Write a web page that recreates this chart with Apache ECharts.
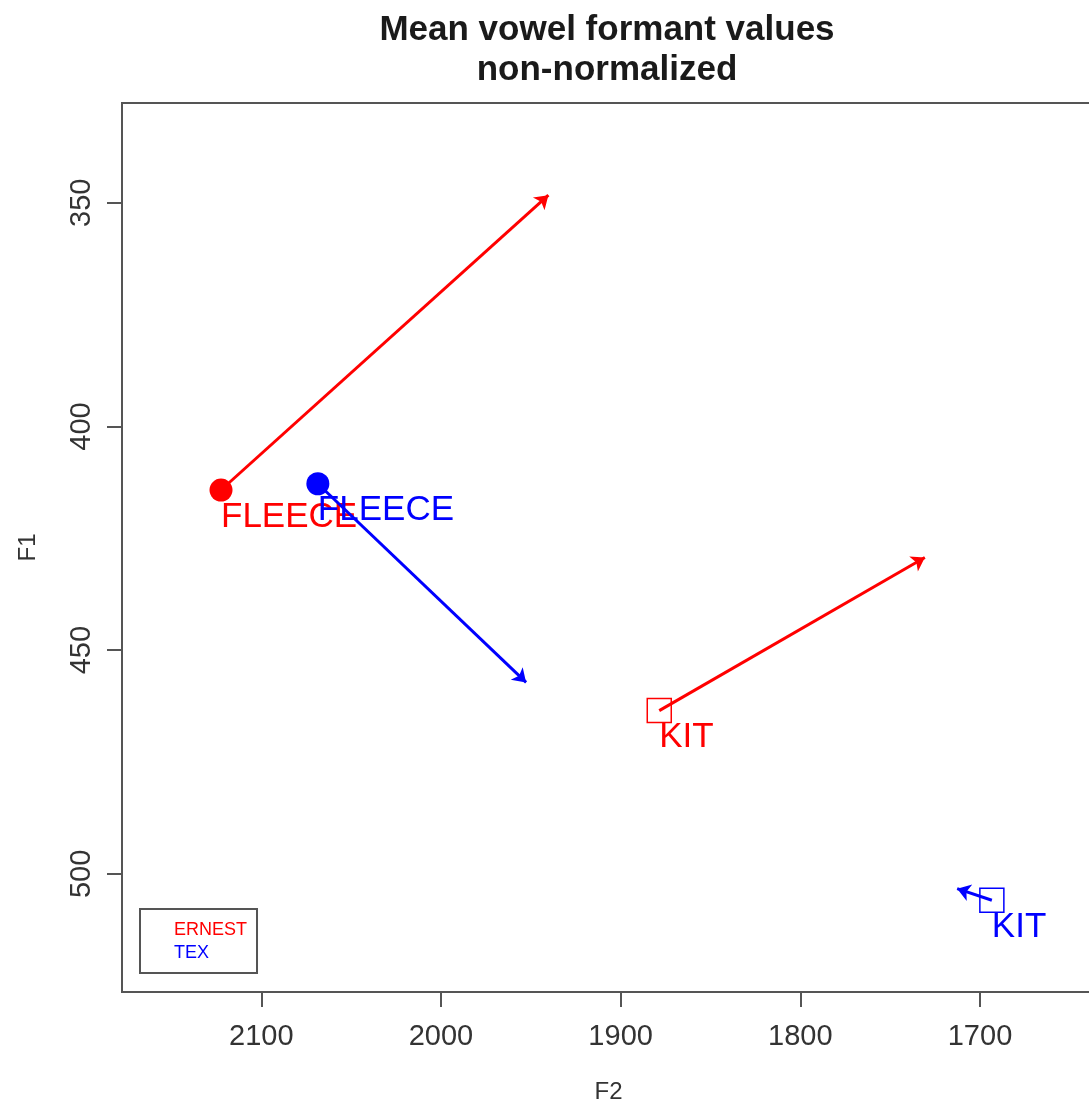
<!DOCTYPE html>
<html>
<head>
<meta charset="utf-8">
<title>Mean vowel formant values</title>
<script src="https://cdn.jsdelivr.net/npm/echarts@6/dist/echarts.min.js"></script>
<style>
  html, body { margin: 0; padding: 0; background: #fff; }
  #chart { width: 1089px; height: 1105px; }
</style>
</head>
<body>
<div id="chart"></div>
<script>
// Vowel categories, one entry per vowel
const vowels = ['FLEECE', 'KIT'];
const speakers = ['ERNEST', 'TEX'];

// Mean formants (Hz): onset position and arrow end for each vowel
const ernestF2Start = [2122.4, 1878.5];
const ernestF1Start = [414.2, 463.5];
const ernestF2End   = [1940.2, 1730.7];
const ernestF1End   = [348.3, 429.3];

const texF2Start = [2068.5, 1693.4];
const texF1Start = [412.8, 505.9];
const texF2End   = [1952.6, 1712.7];
const texF1End   = [457.2, 503.3];

// Axis ticks
const f2Ticks = [2100, 2000, 1900, 1800, 1700];
const f1Ticks = [350, 400, 450, 500];

const colors = { ERNEST: '#ff0000', TEX: '#0000ff' };
const FONT = '"Liberation Sans", Arial, Helvetica, sans-serif';

function pointSeries(name, f2, f1) {
  const c = colors[name];
  return {
    type: 'scatter',
    name: name,
    z: name === 'TEX' ? 4 : 3,
    data: vowels.map((v, i) => {
      const isCircle = v === 'FLEECE';
      return {
        name: v,
        value: [f2[i], f1[i]],
        symbol: isCircle ? 'circle' : 'rect',
        symbolSize: isCircle ? 23 : 24,
        itemStyle: isCircle
          ? { color: c, borderWidth: 0, opacity: 1 }
          : { color: 'rgba(0,0,0,0)', borderColor: c, borderWidth: 1.5, opacity: 1 }
      };
    }),
    label: {
      show: true,
      position: 'inside',
      align: 'left',
      verticalAlign: 'middle',
      offset: [0, 27],
      formatter: p => p.name,
      color: c,
      opacity: 1,
      fontFamily: FONT,
      fontSize: 35
    },
    emphasis: { disabled: true },
    silent: true
  };
}

function arrowSeries(name, f2a, f1a, f2b, f1b) {
  const c = colors[name];
  return {
    type: 'lines',
    name: name,
    coordinateSystem: 'cartesian2d',
    z: name === 'TEX' ? 4 : 3,
    symbol: ['none', 'arrow'],
    symbolSize: [0, 13],
    lineStyle: { color: c, width: 3, opacity: 1 },
    data: vowels.map((v, i) => ({
      coords: [[f2a[i], f1a[i]], [f2b[i], f1b[i]]]
    })),
    silent: true
  };
}

const chart = echarts.init(document.getElementById('chart'), null, { renderer: 'canvas' });

chart.setOption({
  animation: false,
  backgroundColor: '#ffffff',
  title: {
    text: 'Mean vowel formant values\nnon-normalized',
    left: 607,
    top: 10,
    padding: 0,
    textAlign: 'center',
    textStyle: {
      fontFamily: FONT,
      fontSize: 35,
      fontWeight: 'bold',
      color: '#1a1a1a',
      lineHeight: 40
    }
  },
  legend: {
    data: speakers.map(s => ({ name: s, textStyle: { color: colors[s] } })),
    orient: 'vertical',
    left: 140,
    top: 909,
    padding: [12, 10, 11, 9],
    itemGap: 5,
    itemWidth: 20,
    itemHeight: 2,
    icon: 'rect',
    itemStyle: { opacity: 0 },
    lineStyle: { opacity: 0 },
    selectedMode: false,
    borderColor: '#555',
    borderWidth: 2,
    borderRadius: 0,
    backgroundColor: '#fff',
    textStyle: { fontFamily: FONT, fontSize: 18, lineHeight: 18, padding: [0, 0, 0, 0] }
  },
  grid: {
    left: 122,
    top: 103,
    bottom: 113,
    right: -6,
    outerBoundsMode: 'none',
    containLabel: false,
    show: true,
    borderColor: '#555',
    borderWidth: 2,
    backgroundColor: 'transparent'
  },
  xAxis: {
    type: 'value',
    inverse: true,
    min: 1636,
    max: 2177.5,
    name: 'F2',
    nameLocation: 'middle',
    nameGap: 88,
    nameTextStyle: { fontFamily: FONT, fontSize: 24, color: '#333' },
    splitLine: { show: false },
    axisLine: { show: true, lineStyle: { color: '#555', width: 2 } },
    axisTick: { show: true, inside: false, length: 15, customValues: f2Ticks, lineStyle: { color: '#555', width: 2 } },
    axisLabel: {
      customValues: f2Ticks,
      formatter: v => String(v),
      margin: 30,
      fontFamily: FONT,
      fontSize: 29,
      color: '#333'
    }
  },
  yAxis: {
    type: 'value',
    inverse: true,
    min: 327.7,
    max: 526.4,
    name: 'F1',
    nameLocation: 'middle',
    nameRotate: 90,
    nameGap: 82,
    nameTextStyle: { fontFamily: FONT, fontSize: 24, color: '#333' },
    splitLine: { show: false },
    axisLine: { show: true, lineStyle: { color: '#555', width: 2 } },
    axisTick: { show: true, inside: false, length: 15, customValues: f1Ticks, lineStyle: { color: '#555', width: 2 } },
    axisLabel: {
      customValues: f1Ticks,
      formatter: v => String(v),
      rotate: 90,
      margin: 26,
      fontFamily: FONT,
      fontSize: 29,
      color: '#333'
    }
  },
  series: [
    pointSeries('ERNEST', ernestF2Start, ernestF1Start),
    arrowSeries('ERNEST', ernestF2Start, ernestF1Start, ernestF2End, ernestF1End),
    pointSeries('TEX', texF2Start, texF1Start),
    arrowSeries('TEX', texF2Start, texF1Start, texF2End, texF1End)
  ]
});
</script>
</body>
</html>
